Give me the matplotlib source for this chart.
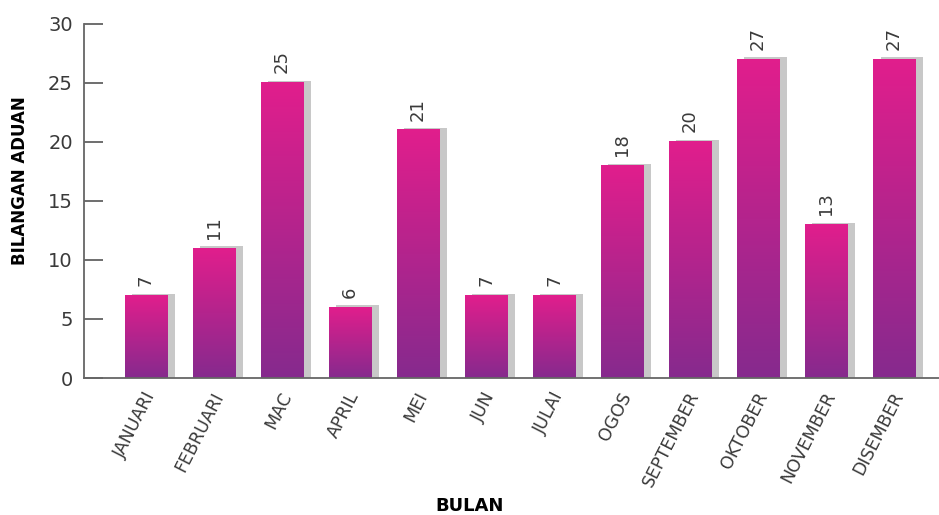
import numpy as np
import matplotlib.pyplot as plt
from matplotlib.colors import LinearSegmentedColormap
from matplotlib.transforms import ScaledTranslation

months = ["JANUARI", "FEBRUARI", "MAC", "APRIL", "MEI", "JUN", "JULAI",
          "OGOS", "SEPTEMBER", "OKTOBER", "NOVEMBER", "DISEMBER"]
complaints = [7, 11, 25, 6, 21, 7, 7, 18, 20, 27, 13, 27]
yticks = [0, 5, 10, 15, 20, 25, 30]

grad = LinearSegmentedColormap.from_list("barfade", ["#862a8e", "#e11e8c"])
text_col = "#3a3a3a"

fig = plt.figure(figsize=(9.39, 5.15), dpi=100)
ax = fig.add_axes([0.0895, 0.266, 0.9105, 0.688])

width = 0.62
shadow_dx = 0.11
x = np.arange(len(months))
g = np.linspace(0, 1, 256).reshape(-1, 1)

for xi, h in zip(x, complaints):
    # grey drop shadow to the right
    ax.bar(xi + shadow_dx, h + 0.15, width=width, color="#c8c8c8",
           edgecolor="none", zorder=1)
    # vertical gradient fill
    ax.imshow(g, cmap=grad, origin="lower", aspect="auto",
              extent=[xi - width / 2, xi + width / 2, 0, h], zorder=2)
    ax.text(xi, h + 0.8, str(h), rotation=90, ha="center", va="bottom",
            fontsize=13, color=text_col)

ax.set_xlim(-0.91, 11.66)
ax.set_ylim(0, 30)
ax.set_yticks(yticks)
ax.set_xticks(x)
ax.set_xticklabels([])

# month names drawn under each bar, slanted
shift = ScaledTranslation(5 / 100, -15 / 100, fig.dpi_scale_trans)
for xi, name in zip(x, months):
    ax.text(xi, 0, name, rotation=63, rotation_mode="anchor",
            ha="right", va="center", fontsize=12.5, color=text_col,
            transform=ax.get_xaxis_transform() + shift)

ax.tick_params(axis="x", length=0, pad=0)
ax.tick_params(axis="y", direction="in", length=14, width=1.2,
               colors="#555555", labelsize=14, labelcolor=text_col, pad=8)

for side in ["top", "right"]:
    ax.spines[side].set_visible(False)
for side in ["left", "bottom"]:
    ax.spines[side].set_color("#666666")
    ax.spines[side].set_linewidth(1.3)

fig.text(0.021, 0.65, "BILANGAN ADUAN", rotation=90, ha="center", va="center",
         fontsize=12, fontweight="bold", color="black")
fig.text(0.5, 0.018, "BULAN", ha="center", va="center",
         fontsize=13, fontweight="bold", color="black")

fig.savefig("out.png", dpi=100)
